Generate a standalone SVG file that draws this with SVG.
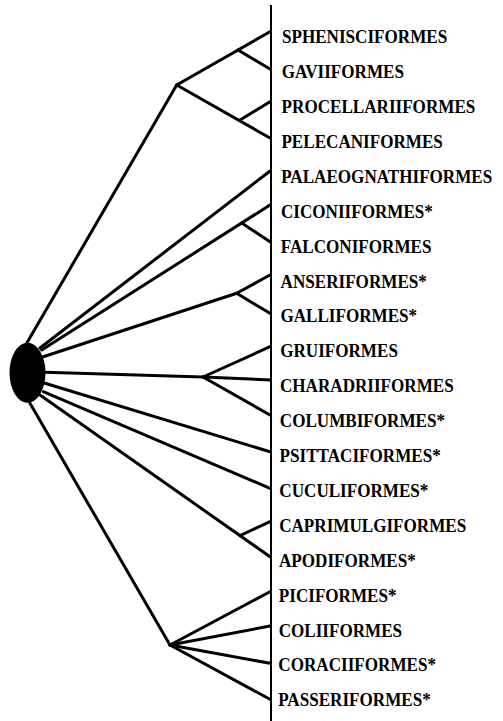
<svg xmlns="http://www.w3.org/2000/svg" width="503" height="721" viewBox="0 0 503 721">
<style>
.c{stroke:#000;stroke-width:3;fill:none;stroke-linecap:round}
.ax{stroke:#000;stroke-width:2;fill:none}
.t{font-family:"Liberation Serif","Times New Roman",serif;font-weight:bold;font-size:19px;fill:#000}
</style>
<rect width="503" height="721" fill="#fff"/>
<g id="axis"><line class="ax" x1="271" y1="5" x2="271" y2="721"/></g>
<g id="connectors">
<line class="c" x1="26.7" y1="343.3" x2="176.7" y2="85"/>
<line class="c" x1="176.7" y1="85" x2="270" y2="31.7"/>
<line class="c" x1="238" y1="50" x2="270" y2="69"/>
<line class="c" x1="176.7" y1="85" x2="270" y2="138"/>
<line class="c" x1="240" y1="120" x2="270" y2="101.7"/>
<line class="c" x1="40" y1="348" x2="270" y2="171"/>
<line class="c" x1="41.7" y1="350" x2="270" y2="205"/>
<line class="c" x1="241.7" y1="223" x2="270" y2="241.7"/>
<line class="c" x1="43.3" y1="356.7" x2="236.7" y2="293.3"/>
<line class="c" x1="236.7" y1="293.3" x2="270" y2="275"/>
<line class="c" x1="236.7" y1="293.3" x2="270" y2="313.3"/>
<line class="c" x1="45" y1="372.3" x2="203" y2="377"/>
<line class="c" x1="203" y1="377" x2="270" y2="346.7"/>
<line class="c" x1="203" y1="377" x2="270" y2="380"/>
<line class="c" x1="203" y1="377" x2="270" y2="415"/>
<line class="c" x1="45" y1="383.3" x2="270" y2="451.7"/>
<line class="c" x1="43.3" y1="391.7" x2="270" y2="488.3"/>
<line class="c" x1="40" y1="395" x2="270" y2="556.7"/>
<line class="c" x1="240" y1="535.6" x2="270" y2="521.7"/>
<line class="c" x1="30" y1="403.3" x2="170" y2="645"/>
<line class="c" x1="170" y1="645" x2="270" y2="591.7"/>
<line class="c" x1="170" y1="645" x2="270" y2="626"/>
<line class="c" x1="170" y1="645" x2="270" y2="663.3"/>
<line class="c" x1="170" y1="645" x2="270" y2="699.3"/>
</g>
<g id="root"><ellipse cx="27.5" cy="372.7" rx="18" ry="30" fill="#000"/></g>
<g transform="scale(0.9 1)">
<g id="sphenisciformes"><text class="t" x="313.3" y="43.3">SPHENISCIFORMES</text></g>
<g id="gaviiformes"><text class="t" x="313.1" y="78.2">GAVIIFORMES</text></g>
<g id="procellariiformes"><text class="t" x="312.9" y="113.1">PROCELLARIIFORMES</text></g>
<g id="pelecaniformes"><text class="t" x="312.7" y="148">PELECANIFORMES</text></g>
<g id="palaeognathiformes"><text class="t" x="312.4" y="182.9">PALAEOGNATHIFORMES</text></g>
<g id="ciconiiformes"><text class="t" x="312.2" y="217.8">CICONIIFORMES*</text></g>
<g id="falconiformes"><text class="t" x="312" y="252.7">FALCONIFORMES</text></g>
<g id="anseriformes"><text class="t" x="311.8" y="287.6">ANSERIFORMES*</text></g>
<g id="galliformes"><text class="t" x="311.6" y="322.5">GALLIFORMES*</text></g>
<g id="gruiformes"><text class="t" x="311.3" y="357.4">GRUIFORMES</text></g>
<g id="charadriiformes"><text class="t" x="311.1" y="392.3">CHARADRIIFORMES</text></g>
<g id="columbiformes"><text class="t" x="310.9" y="427.2">COLUMBIFORMES*</text></g>
<g id="psittaciformes"><text class="t" x="310.7" y="462.1">PSITTACIFORMES*</text></g>
<g id="cuculiformes"><text class="t" x="310.4" y="497">CUCULIFORMES*</text></g>
<g id="caprimulgiformes"><text class="t" x="310.2" y="531.9">CAPRIMULGIFORMES</text></g>
<g id="apodiformes"><text class="t" x="310" y="566.8">APODIFORMES*</text></g>
<g id="piciformes"><text class="t" x="309.8" y="601.7">PICIFORMES*</text></g>
<g id="coliiformes"><text class="t" x="309.6" y="636.6">COLIIFORMES</text></g>
<g id="coraciiformes"><text class="t" x="309.3" y="671.5">CORACIIFORMES*</text></g>
<g id="passeriformes"><text class="t" x="309.1" y="706.4">PASSERIFORMES*</text></g>
</g>
</svg>
